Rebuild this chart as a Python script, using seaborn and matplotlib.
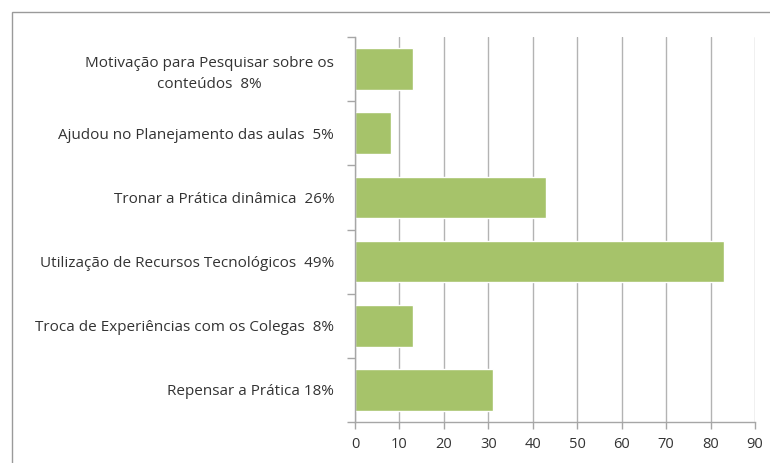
import matplotlib.pyplot as plt
import pandas as pd
import seaborn as sns
from matplotlib.patches import Rectangle

categorias = [
    "Motivação para Pesquisar sobre os\nconteúdos  8%",
    "Ajudou no Planejamento das aulas  5%",
    "Tronar a Prática dinâmica  26%",
    "Utilização de Recursos Tecnológicos  49%",
    "Troca de Experiências com os Colegas  8%",
    "Repensar a Prática 18%",
]
valores = [13, 8, 43, 83, 13, 31]
xticks = list(range(0, 100, 10))

sns.set_style("white")
plt.rcParams["font.family"] = ["Open Sans", "DejaVu Sans"]

dados = pd.DataFrame({"categoria": categorias, "valor": valores})

fig = plt.figure(figsize=(7.7, 4.63), dpi=100)
ax = fig.add_axes([355 / 770, 1 - 422 / 463, 400 / 770, 385 / 463])

sns.barplot(data=dados, x="valor", y="categoria", color="#A6C36A",
            saturation=1, width=0.65, ax=ax)

ax.set_xlim(0, 90)
ax.set_xticks(xticks)
ax.grid(axis="x", color="#b3b3b3", linewidth=1)
ax.set_axisbelow(True)
ax.set_xlabel("")
ax.set_ylabel("")

for side in ["top", "right"]:
    ax.spines[side].set_visible(False)
for side in ["left", "bottom"]:
    ax.spines[side].set_color("#a6a6a6")
    ax.spines[side].set_linewidth(1)

ax.tick_params(axis="x", length=5, width=1, color="#a6a6a6", direction="out",
               labelsize=10.5, labelcolor="#333333", pad=6, bottom=True)
ax.tick_params(axis="y", which="major", length=0, labelsize=11,
               labelcolor="#333333", pad=15)
ax.set_yticks([i - 0.5 for i in range(len(categorias) + 1)], minor=True)
ax.tick_params(axis="y", which="minor", length=6, width=1, color="#a6a6a6",
               direction="out", left=True)
for lbl in ax.get_yticklabels():
    lbl.set_multialignment("center")
    lbl.set_linespacing(1.5)

fig.add_artist(Rectangle((12 / 770, -0.2), 1.2, (463 - 12) / 463 + 0.2,
                         transform=fig.transFigure, fill=False,
                         edgecolor="#9a9a9a", linewidth=1))

fig.savefig("out.png", dpi=100)
